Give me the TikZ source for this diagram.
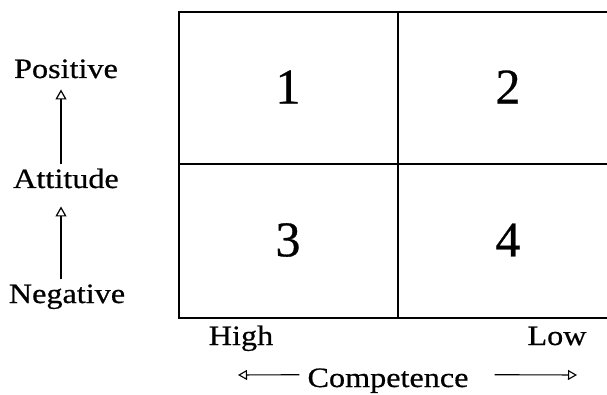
\documentclass[tikz,border=0pt]{standalone}
\usepackage{fontspec}
\setmainfont[FakeStretch=1.15,FakeBold=0.6]{Liberation Serif}
\newfontfamily\numfont[FakeBold=0.6]{Liberation Serif}
\usetikzlibrary{arrows.meta}

\tikzset{
  lbl/.style={font=\fontsize{28}{28}\selectfont, inner sep=0pt},
  num/.style={font=\numfont\fontsize{50}{50}\selectfont, inner sep=0pt},
  axis/.style={line width=1.2pt, -{Triangle[open,length=10pt,width=11pt,line width=1.2pt]}},
  haxis/.style={line width=1.1pt, -{Triangle[open,length=9pt,width=10pt,line width=1.1pt]}},
  grid/.style={line width=1.6pt}
}

\begin{document}
\begin{tikzpicture}[x=1pt,y=-1pt]
        \useasboundingbox (0,0) rectangle (607,395);
        % Die vier Felder
        \draw[grid] (620,12) -- (179,12) -- (179,318) -- (620,318);
        \draw[grid] (398,12) -- (398,318);
        \draw[grid] (179,164) -- (620,164);
        \node[num] (q1) at (288,87) {1};
        \node[num] (q2) at (508,87) {2};
        \node[num] (q3) at (288,240) {3};
        \node[num] (q4) at (508,240) {4};
        % Achse links
        \node[lbl,anchor=base] (pos) at (66,78) {Positive};
        \node[lbl,anchor=base] (att) at (66,188) {Attitude};
        \node[lbl,anchor=base] (neg) at (67,303) {Negative};
        \draw[axis] ([shift={(-5,-4)}]att.north) -- ([shift={(-5,11)}]pos.south);
        \draw[axis] ([shift={(-6,-5)}]neg.north) -- ([shift={(-5,18)}]att.south);
        % Achse unten
        \node[lbl,anchor=base] (high) at (241,345) {High};
        \node[lbl,anchor=base] (low) at (557,345) {Low};
        \node[lbl,anchor=base] (comp) at (388,387) {Competence};
        \coordinate (hi) at (238,375);
        \coordinate (lo) at (577,375);
        \draw[haxis] ([shift={(-8,-6)}]comp.west) -- (hi);
        \draw[haxis] ([shift={(26,-6)}]comp.east) -- (lo);
\end{tikzpicture}
\end{document}
